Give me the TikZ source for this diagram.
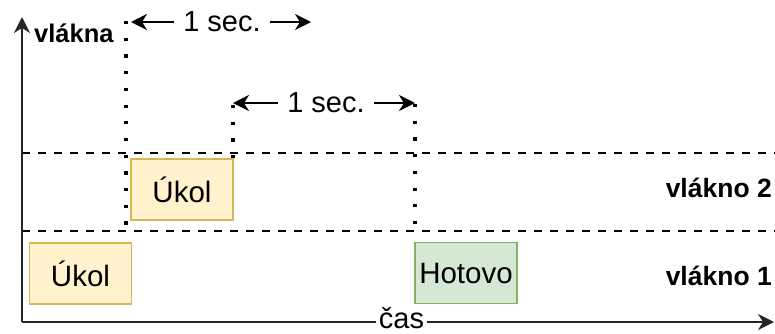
\documentclass[tikz,border=0pt]{standalone}
\usepackage{fontspec}
\setmainfont{Liberation Sans}
\usetikzlibrary{arrows.meta}
\definecolor{yfill}{HTML}{FFF2CC}
\definecolor{ydraw}{HTML}{D6B656}
\definecolor{gfill}{HTML}{D5E8D4}
\definecolor{gdraw}{HTML}{82B366}
\tikzset{
  tip/.style={-{Stealth[length=16pt,width=16pt,inset=5pt]}},
  axis/.style={line width=2pt, black!85},
  taskbox/.style={draw=ydraw, fill=yfill, line width=1.5pt, minimum width=102pt, minimum height=61pt, inner sep=0pt, font=\fontsize{29.5}{34}\selectfont},
  donebox/.style={draw=gdraw, fill=gfill, line width=1.5pt, minimum width=102pt, minimum height=61pt, inner sep=0pt, font=\fontsize{29.5}{34}\selectfont},
  lane/.style={line width=2pt, dash pattern=on 8pt off 8pt},
  dotline/.style={line width=3.2pt, dash pattern=on 3.2pt off 13.5pt},
  lbl/.style={inner sep=0pt, font=\bfseries\fontsize{26.5}{30}\selectfont},
  seclbl/.style={fill=white, inner xsep=9pt, inner ysep=2pt, font=\fontsize{29}{34}\selectfont},
  timeline/.style={line width=2pt, tip},
}
\begin{document}
\begin{tikzpicture}[x=1pt,y=-1pt]
\useasboundingbox (0,0) rectangle (775,333);
% lanes
\coordinate (l2a) at (22,153); \coordinate (l2b) at (775,153);
\coordinate (l1a) at (22,231); \coordinate (l1b) at (775,231);
\draw[lane] (l2a) -- (l2b);
\draw[lane] (l1a) -- (l1b);
% dotted markers
\coordinate (d1t) at (126,21); \coordinate (d1b) at (126,232);
\coordinate (d2t) at (233,105); \coordinate (d2b) at (233,163);
\coordinate (d3t) at (415,104); \coordinate (d3b) at (415,233);
\draw[dotline] (d1t) -- (d1b);
\draw[dotline] (d2t) -- (d2b);
\draw[dotline] (d3t) -- (d3b);
% boxes
\node[taskbox] (ukol1) at (80.5,273.5) {Úkol};
\node[taskbox] (ukol2) at (182,189.5) {Úkol};
\node[donebox] (hotovo) at (466,273) {Hotovo};
% axes
\coordinate (o) at (22,322);
\coordinate (ytop) at (22,17);
\coordinate (xend) at (774,322);
\draw[axis, tip] (o) -- (ytop);
\node[fill=white, anchor=base, text depth=0pt, inner xsep=3pt, inner ysep=0pt, font=\fontsize{29}{32}\selectfont] (cas) at (401.5,328) {čas};
\draw[axis] (o) -- (cas.west |- o);
\draw[axis, tip] (cas.east |- o) -- (xend);
\node[lbl, anchor=base west, font=\bfseries\fontsize{25.5}{30}\selectfont] (vlakna) at (34,42) {vlákna};
\node[lbl, anchor=base east] (v2) at (772,197) {vlákno 2};
\node[lbl, anchor=base east] (v1) at (772,285) {vlákno 1};
% 1 sec arrows
\coordinate (a1l) at (131,22); \coordinate (a1r) at (311,22);
\node[seclbl] (s1) at (222,22) {1 sec.};
\draw[timeline] (s1) -- (a1l);
\draw[timeline] (s1) -- (a1r);
\coordinate (a2l) at (233,103); \coordinate (a2r) at (415,103);
\node[seclbl] (s2) at (326,103) {1 sec.};
\draw[timeline] (s2) -- (a2l);
\draw[timeline] (s2) -- (a2r);
\end{tikzpicture}
\end{document}
